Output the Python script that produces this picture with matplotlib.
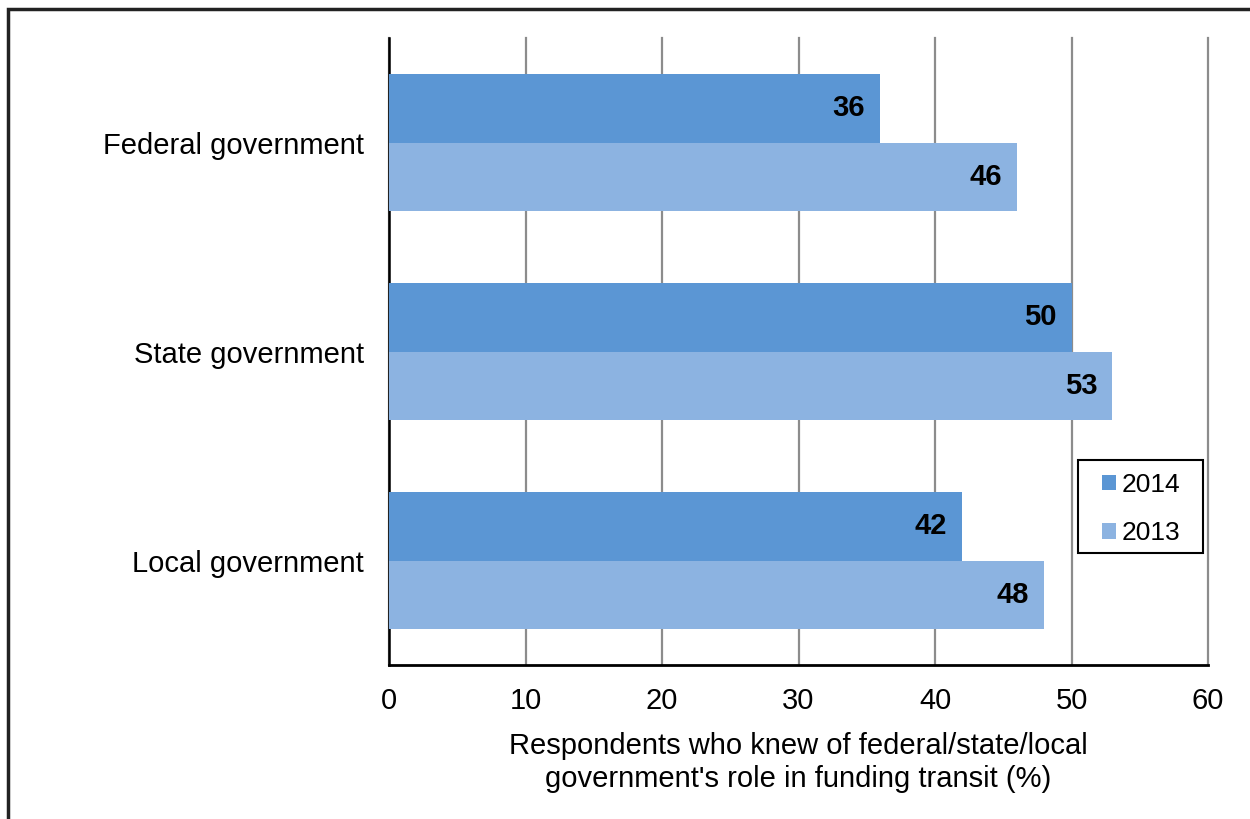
import matplotlib.pyplot as plt
import numpy as np
from matplotlib.patches import Rectangle

plt.rcParams["font.family"] = ["Liberation Sans", "DejaVu Sans"]

categories = ["Federal government", "State government", "Local government"]
years = ["2014", "2013"]
values_2014 = [36, 50, 42]
values_2013 = [46, 53, 48]
xticks = [0, 10, 20, 30, 40, 50, 60]


def main():
    fig = plt.figure(figsize=(12.5, 8.19), dpi=100)
    fig.patch.set_facecolor("white")
    ax = fig.add_axes([0.3112, 0.188, 0.6552, 0.7656])

    colors = {"2014": "#5B96D4", "2013": "#8CB3E1"}
    y = np.arange(len(categories))
    h = 0.33

    bars_a = ax.barh(y - h / 2, values_2014, height=h, color=colors["2014"], label=years[0], zorder=3)
    bars_b = ax.barh(y + h / 2, values_2013, height=h, color=colors["2013"], label=years[1], zorder=3)

    for bars in (bars_a, bars_b):
        for b in bars:
            w = b.get_width()
            ax.annotate(f"{w:.0f}", xy=(w, b.get_y() + b.get_height() / 2),
                        xytext=(-11, 0), textcoords="offset points",
                        ha="right", va="center", fontsize=21, fontweight="bold",
                        color="black", zorder=4)

    ax.set_xlim(0, 60)
    ax.set_ylim(2.5, -0.5)
    ax.set_xticks(xticks)
    ax.set_yticks(y)
    ax.set_yticklabels(categories, fontsize=21)
    ax.tick_params(axis="x", labelsize=21, length=0, pad=16)
    ax.tick_params(axis="y", length=0, pad=18)
    ax.xaxis.grid(True, color="#8C8C8C", linewidth=1.6, zorder=1)
    for gl in ax.get_xgridlines():
        gl.set_clip_on(False)
    ax.set_axisbelow(True)

    for s in ["top", "right"]:
        ax.spines[s].set_visible(False)
    ax.spines["left"].set_color("black")
    ax.spines["left"].set_linewidth(1.8)
    ax.spines["bottom"].set_color("black")
    ax.spines["bottom"].set_linewidth(2.0)

    ax.set_xlabel("Respondents who knew of federal/state/local\ngovernment's role in funding transit (%)",
                  fontsize=21, labelpad=12, linespacing=1.25)

    # legend box drawn separately so its padding can match the reference
    ax.add_patch(Rectangle((0.8413, 0.1786), 0.1526, 0.1484, transform=ax.transAxes,
                           facecolor="white", edgecolor="black", linewidth=1.5,
                           zorder=5, clip_on=False))
    ax.legend(loc="upper left", bbox_to_anchor=(0.8706, 0.3062), fontsize=19,
              frameon=False, handlelength=0.53, handleheight=0.53,
              handletextpad=0.23, borderpad=0, labelspacing=0.92,
              borderaxespad=0).set_zorder(6)

    fig.patches.append(Rectangle((8 / 1250, -0.1), 1.2, 1 - 9 / 819 + 0.1,
                                 transform=fig.transFigure, fill=False,
                                 edgecolor="#222222", linewidth=2.5))

    fig.savefig("out.png", dpi=100, facecolor="white")
    plt.close(fig)


if __name__ == "__main__":
    main()
